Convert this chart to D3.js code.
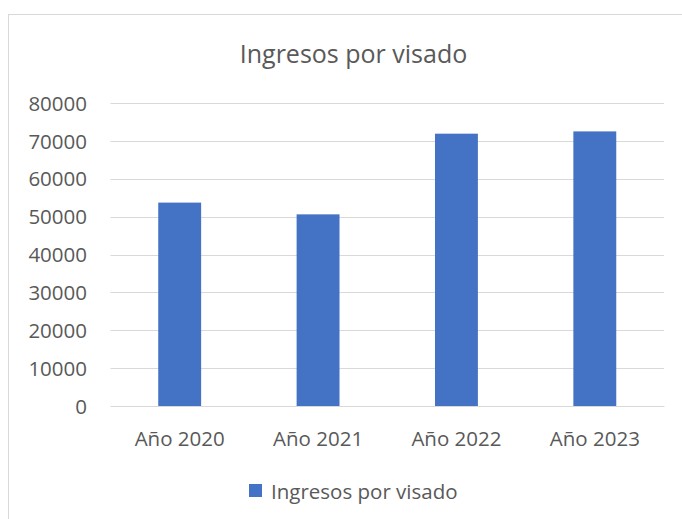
<!DOCTYPE html>
<html>
<head>
<meta charset="utf-8">
<script src="https://cdn.jsdelivr.net/npm/d3@7"></script>
<style>
  body { margin: 0; background: #fff; }
  svg { display: block; }
</style>
</head>
<body>
<div id="chart"></div>
<script>
const categories = ["Año 2020", "Año 2021", "Año 2022", "Año 2023"];
const ingresos = [53700, 50600, 71900, 72500];
const yTicks = [0, 10000, 20000, 30000, 40000, 50000, 60000, 70000, 80000];
const seriesName = "Ingresos por visado";

const width = 682, height = 519;
const margin = {top: 103, right: 18, bottom: 113, left: 110.5};
const font = "'Open Sans', 'Noto Sans', sans-serif";
const textColor = "#595959";
const barColor = "#4472c4";

const svg = d3.select("#chart").append("svg")
    .attr("width", width)
    .attr("height", height)
    .attr("font-family", font);

// chart frame (runs off the right and bottom edges)
svg.append("rect")
    .attr("x", 8.5).attr("y", 14.5)
    .attr("width", 700).attr("height", 530)
    .attr("fill", "#fff")
    .attr("stroke", "#d9d9d9");

const x = d3.scaleBand()
    .domain(categories)
    .range([margin.left, width - margin.right])
    .paddingInner(0.69)
    .paddingOuter(0.345);

const y = d3.scaleLinear()
    .domain([0, 80000])
    .range([height - margin.bottom, margin.top]);

// gridlines
svg.append("g")
  .selectAll("line")
  .data(yTicks)
  .join("line")
    .attr("x1", margin.left).attr("x2", width - margin.right)
    .attr("y1", d => Math.round(y(d)) + 0.5)
    .attr("y2", d => Math.round(y(d)) + 0.5)
    .attr("stroke", "#d9d9d9")
    .attr("stroke-width", 1);

// bars
svg.append("g")
  .selectAll("rect")
  .data(ingresos)
  .join("rect")
    .attr("x", (d, i) => x(categories[i]))
    .attr("y", d => y(d))
    .attr("width", x.bandwidth())
    .attr("height", d => y(0) - y(d))
    .attr("fill", barColor);

// y axis labels
const yAxis = svg.append("g")
    .attr("transform", `translate(87,0)`)
    .call(d3.axisLeft(y).tickValues(yTicks).tickFormat(d3.format("d")).tickSize(0).tickPadding(0));
yAxis.select(".domain").remove();
yAxis.selectAll("text")
    .attr("font-size", 20.5)
    .attr("font-family", font)
    .attr("fill", textColor)
    .attr("dy", "0.35em");

// x axis labels
const xAxis = svg.append("g")
    .attr("transform", `translate(0,${y(0)})`)
    .call(d3.axisBottom(x).tickSize(0).tickPadding(0));
xAxis.select(".domain")
    .attr("stroke", "#d9d9d9");
xAxis.selectAll("text")
    .attr("font-size", 20.5)
    .attr("font-family", font)
    .attr("fill", textColor)
    .attr("y", 40)
    .attr("dy", 0);

// title
svg.append("text")
    .attr("x", 353.5)
    .attr("y", 63)
    .attr("text-anchor", "middle")
    .attr("font-size", 25)
    .attr("fill", textColor)
    .text(seriesName);

// legend
const legend = svg.append("g");
legend.append("rect")
    .attr("x", 249).attr("y", 484)
    .attr("width", 13).attr("height", 13)
    .attr("fill", barColor);
legend.append("text")
    .attr("x", 271)
    .attr("y", 499)
    .attr("font-size", 20.5)
    .attr("fill", textColor)
    .text(seriesName);
</script>
</body>
</html>
